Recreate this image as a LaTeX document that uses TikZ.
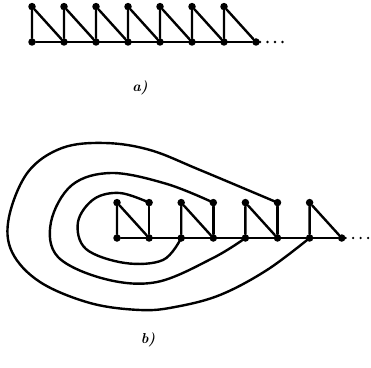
\documentclass[tikz,border=0pt]{standalone}
\usepackage{tikz}
\usetikzlibrary{positioning}

\begin{document}
\begin{tikzpicture}[
    x=1pt, y=1pt,
    vertex/.style={circle, fill, inner sep=0pt, minimum size=7.5pt},
    edge/.style={line width=2.4pt, line cap=round, line join=round},
    tail/.style={line width=2.6pt, line cap=round, dash pattern=on 0pt off 7.5pt},
    caption/.style={font=\Large\bfseries\itshape}
]
\useasboundingbox (0,0) rectangle (371,367);

% a) open strip
\foreach \i in {0,...,7}
    \node[vertex] (a-b\i) at (32+32*\i,325) {};
\foreach \i in {0,...,6}
    \node[vertex, above=27.5pt of a-b\i] (a-t\i) {};
\draw[edge] (a-b0) -- (a-b7);
\foreach \i in {0,...,6} {
    \pgfmathtruncatemacro{\j}{\i+1}
    \draw[edge] (a-b\i) -- (a-t\i) -- (a-b\j);
}
\coordinate (a-dots) at (289,325);
\draw[tail] (a-b7) -- (a-dots);
\node[caption] (a-label) at (140,279) {a)};

% b) strip with the loops
\foreach \i in {0,...,7}
    \node[vertex] (b-b\i) at (117+32.1*\i,129) {};
\foreach \i in {0,...,6}
    \node[vertex, above=27.5pt of b-b\i] (b-t\i) {};
\draw[edge] (b-b0) -- (b-b7);
\foreach \i in {0,2,4,6} {
    \pgfmathtruncatemacro{\j}{\i+1}
    \draw[edge] (b-b\i) -- (b-t\i) -- (b-b\j);
}
\foreach \i in {1,3,5}
    \draw[edge] (b-b\i) -- (b-t\i);

\draw[edge] plot[smooth, tension=0.6] coordinates {(b-t1) (120,174) (94,168) (78,145) (86,118) (125,104) (163,107) (b-b2)};
\draw[edge] plot[smooth, tension=0.6] coordinates {(b-t3) (167,183) (112,194) (72,182) (51,145) (58,110) (105,88) (157,85) (213,109) (b-b4)};
\draw[edge] plot[smooth, tension=0.6] coordinates {(b-t5) (200,197) (150,217) (105,224) (62,219) (28,195) (9,150) (12,115) (40,85) (90,64) (140,57) (175,60) (220,72) (267,97) (b-b6)};

\coordinate (b-dots) at (370,129);
\draw[tail] (b-b7) -- (b-dots);
\node[caption] (b-label) at (148,27) {b)};
\end{tikzpicture}
\end{document}
